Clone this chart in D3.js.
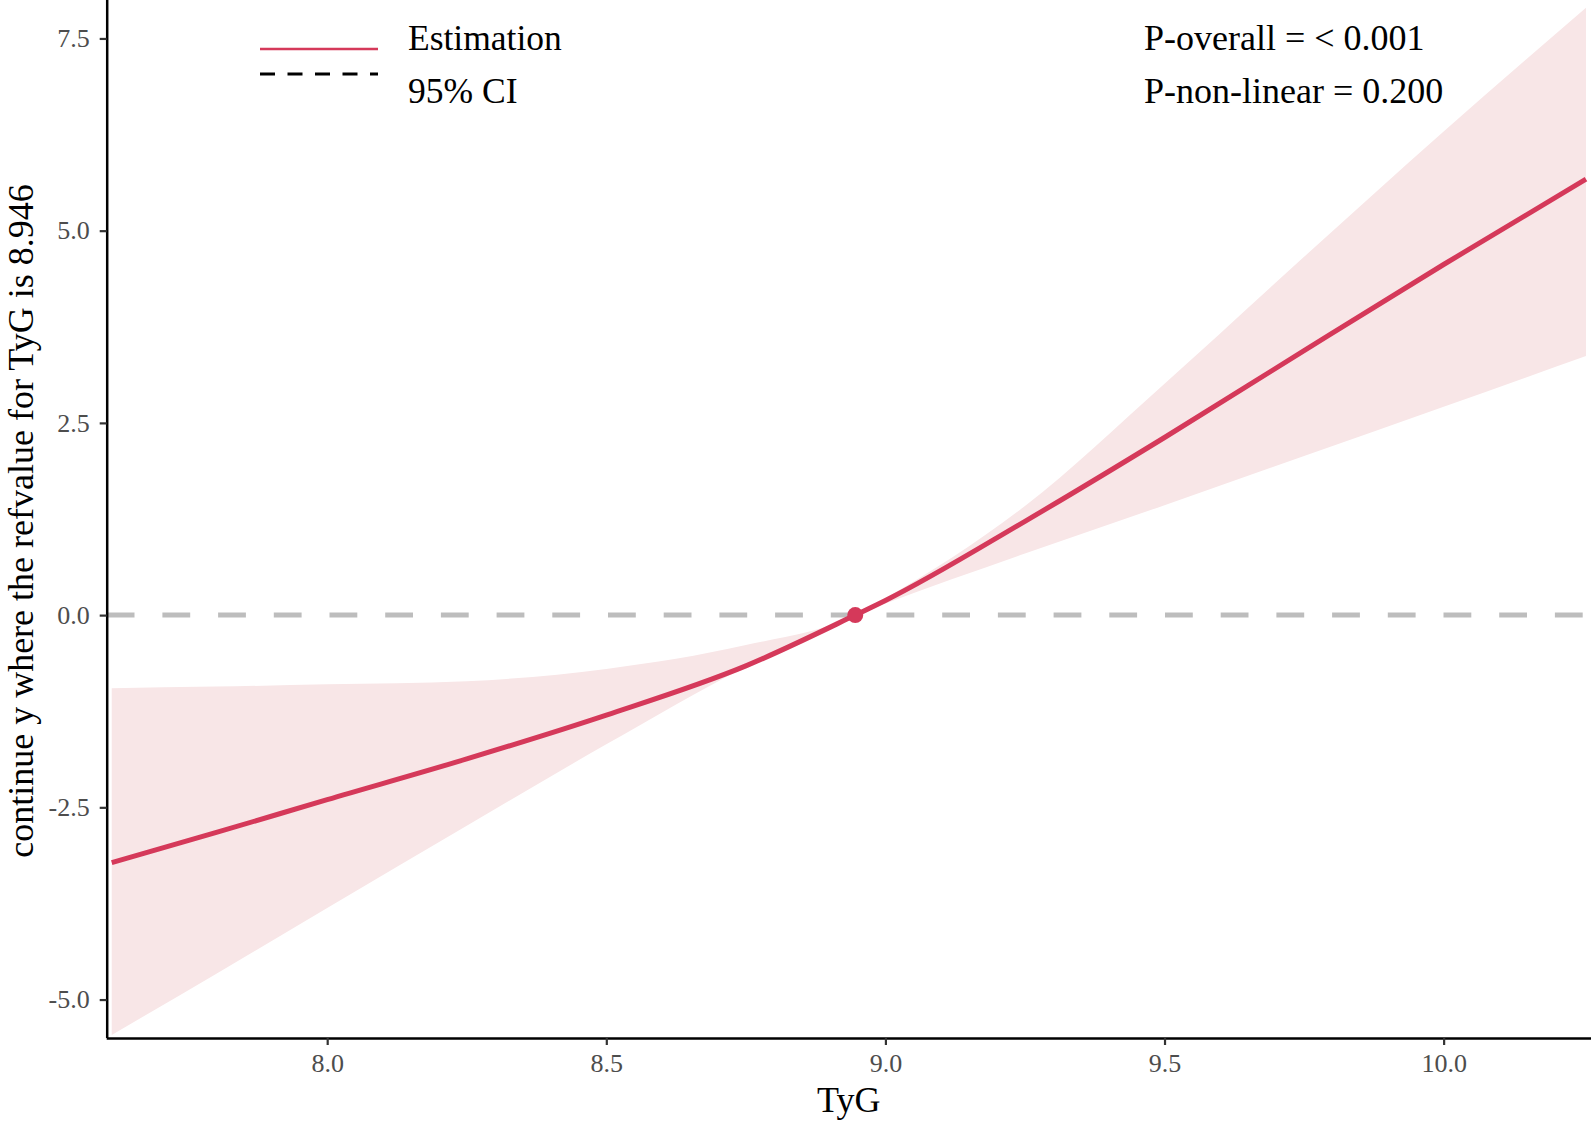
<!DOCTYPE html>
<html>
<head>
<meta charset="utf-8">
<script src="https://cdn.jsdelivr.net/npm/d3@7"></script>
<style>
  html, body { margin: 0; padding: 0; background: #fff; }
  svg { display: block; }
</style>
</head>
<body>
<svg id="chart" width="1594" height="1122"></svg>
<script>
// ---- data ----
const tygValues = [7.614, 7.8, 8.0, 8.25, 8.5, 8.75, 8.946, 9.0, 9.25, 9.5, 9.75, 10.0, 10.255];
const estimate  = [-3.22, -2.83, -2.40, -1.87, -1.30, -0.66, 0.00, 0.19, 1.22, 2.31, 3.44, 4.56, 5.67];
const upperCI   = [-0.95, -0.93, -0.90, -0.86, -0.70, -0.39, 0.00, 0.22, 1.42, 3.01, 4.66, 6.29, 7.90];
const lowerCI   = [-5.46, -4.67, -3.81, -2.74, -1.68, -0.67, 0.00, 0.15, 0.80, 1.43, 2.07, 2.71, 3.37];
const refValue = 8.946;
const xTicks = [8.0, 8.5, 9.0, 9.5, 10.0];
const yTicks = [-5.0, -2.5, 0.0, 2.5, 5.0, 7.5];
const legendLabels = ["Estimation", "95% CI"];
const pTexts = ["P-overall = < 0.001", "P-non-linear = 0.200"];
const xTitle = "TyG";
const yTitle = "continue y where the refvalue for TyG is 8.946";

(function () {
// ---- layout ----
const svg = d3.select("#chart");
const pL = 106.7, pR = 1591, pT = 0, pB = 1038;
const x = d3.scaleLinear().domain([7.605, 10.264]).range([pL, pR]);
const y = d3.scaleLinear().domain([-5.5, 8.0]).range([pB, pT]);
const font = "'Liberation Serif', 'Times New Roman', serif";
const red = "#d5395a";
const fmt = v => d3.format(".1f")(v).replace("\u2212", "-");

const rows = tygValues.map((v, i) => ({x: v, est: estimate[i], lo: lowerCI[i], hi: upperCI[i]}));

const defs = svg.append("defs");
defs.append("clipPath").attr("id", "clip").append("rect")
  .attr("x", pL).attr("y", pT).attr("width", pR - pL).attr("height", pB - pT);

const plot = svg.append("g").attr("clip-path", "url(#clip)");

// ribbon
plot.append("path")
  .datum(rows)
  .attr("fill", "#f8e6e7")
  .attr("d", d3.area().x(d => x(d.x)).y0(d => y(d.lo)).y1(d => y(d.hi)).curve(d3.curveMonotoneX));

// zero reference line
plot.append("line")
  .attr("x1", pL).attr("x2", pR)
  .attr("y1", y(0)).attr("y2", y(0))
  .attr("stroke", "#bdbdbd").attr("stroke-width", 5)
  .attr("stroke-dasharray", "27.8,27.9");

// estimate line
plot.append("path")
  .datum(rows)
  .attr("fill", "none")
  .attr("stroke", red).attr("stroke-width", 5)
  .attr("d", d3.line().x(d => x(d.x)).y(d => y(d.est)).curve(d3.curveMonotoneX));

// reference point
plot.append("circle")
  .attr("cx", x(refValue)).attr("cy", y(0)).attr("r", 8)
  .attr("fill", red);

// axes
const xAxis = svg.append("g")
  .attr("transform", `translate(0,${pB})`)
  .call(d3.axisBottom(x).tickValues(xTicks).tickFormat(fmt).tickSize(7).tickPadding(5));
const yAxis = svg.append("g")
  .attr("transform", `translate(${pL},0)`)
  .call(d3.axisLeft(y).tickValues(yTicks).tickFormat(fmt).tickSize(7).tickPadding(10));

[xAxis, yAxis].forEach(g => {
  g.select(".domain").attr("stroke", "#000").attr("stroke-width", 2.5);
  g.selectAll(".tick line").attr("stroke", "#333").attr("stroke-width", 2.2);
  g.selectAll(".tick text").attr("fill", "#4d4d4d").style("font-family", font).style("font-size", "26px");
});
xAxis.select(".domain").attr("d", `M${pL},0.5H${pR}`);
yAxis.select(".domain").attr("d", `M0.5,${pT}V${pB}`);
xAxis.selectAll(".tick text").attr("dy", "0.85em");

// axis titles
svg.append("text")
  .attr("x", (pL + pR) / 2).attr("y", 1112)
  .attr("text-anchor", "middle")
  .style("font-family", font).style("font-size", "36px").attr("fill", "#000")
  .text(xTitle);
svg.append("text")
  .attr("transform", `translate(33,${(pT + pB) / 2 + 2}) rotate(-90)`)
  .attr("text-anchor", "middle")
  .style("font-family", font).style("font-size", "36px").attr("fill", "#000")
  .text(yTitle);

// legend
const lg = svg.append("g");
lg.append("line").attr("x1", 260).attr("x2", 378).attr("y1", 49).attr("y2", 49)
  .attr("stroke", red).attr("stroke-width", 2.5);
lg.append("line").attr("x1", 260).attr("x2", 378).attr("y1", 74).attr("y2", 74)
  .attr("stroke", "#000").attr("stroke-width", 3).attr("stroke-dasharray", "15,12.5");
lg.selectAll("text.leg").data(legendLabels).enter().append("text")
  .attr("class", "leg")
  .attr("x", 408).attr("y", (d, i) => 49.5 + i * 53)
  .style("font-family", font).style("font-size", "35.5px").attr("fill", "#000")
  .text(d => d);

// p-values
svg.selectAll("text.pval").data(pTexts).enter().append("text")
  .attr("class", "pval")
  .attr("x", 1144).attr("y", (d, i) => 49.5 + i * 53)
  .style("font-family", font).style("font-size", "36px").attr("fill", "#000")
  .text(d => d);
})();
</script>
</body>
</html>
